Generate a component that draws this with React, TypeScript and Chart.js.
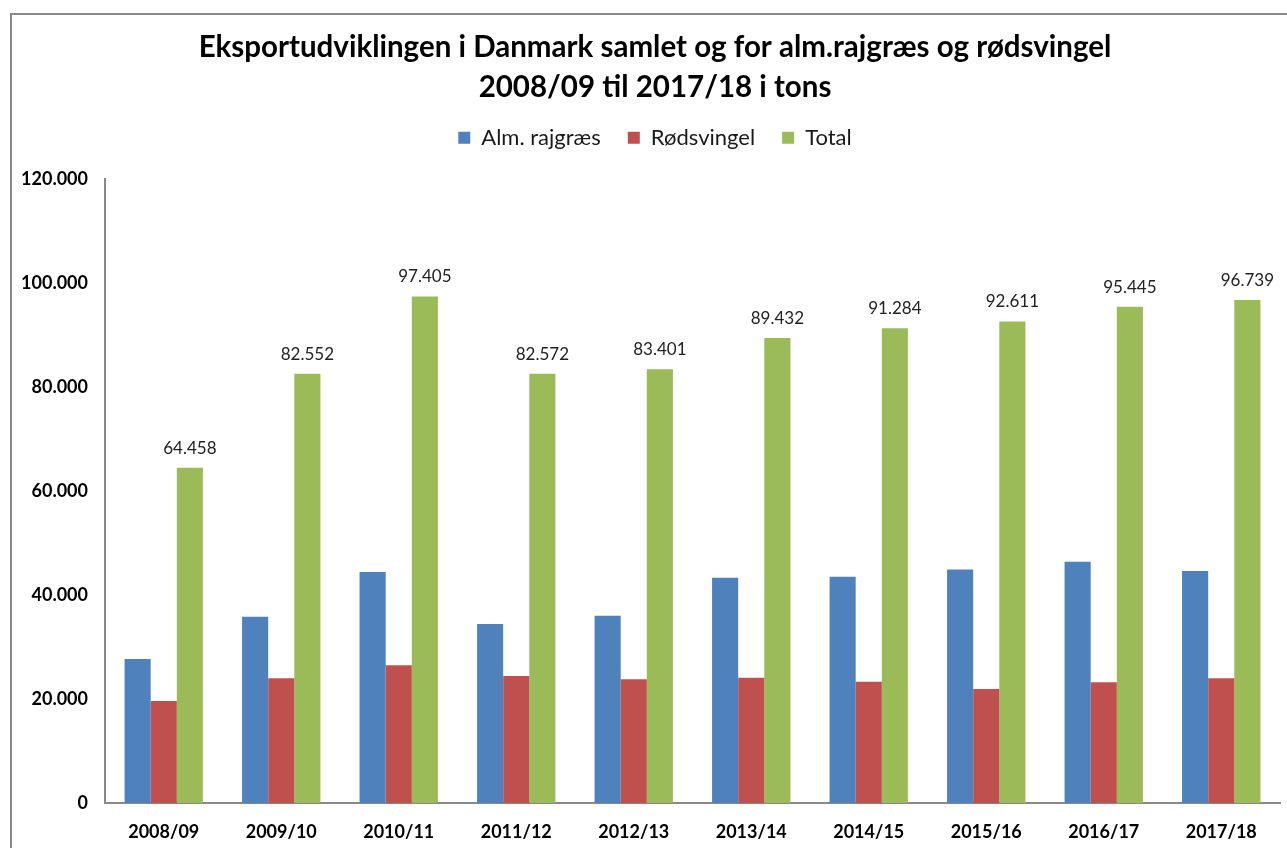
import React, { useEffect, useRef } from "react";
import { Chart, registerables } from "chart.js";

Chart.register(...registerables);

const titleLines = [
  "Eksportudviklingen i Danmark samlet og for alm.rajgræs og rødsvingel",
  "2008/09 til 2017/18 i tons",
];
const categories = [
  "2008/09", "2009/10", "2010/11", "2011/12", "2012/13",
  "2013/14", "2014/15", "2015/16", "2016/17", "2017/18",
];
const seriesNames = ["Alm. rajgræs", "Rødsvingel", "Total"];
const almRajgraes = [27700, 35800, 44400, 34400, 36000, 43300, 43500, 44900, 46400, 44600];
const roedsvingel = [19600, 24000, 26500, 24400, 23800, 24100, 23300, 21900, 23200, 24000];
const total = [64458, 82552, 97405, 82572, 83401, 89432, 91284, 92611, 95445, 96739];
const yMin = 0;
const yMax = 120000;
const yStep = 20000;

const FONT = "Lato, 'Open Sans', sans-serif";
const TITLE_SIZE = 29.5;
const TITLE_LH = 39.15;
const HEADER_SHIFT = 8;

const fmt = (v: number) =>
  Math.round(v).toString().replace(/\B(?=(\d{3})+(?!\d))/g, ".");

const wrapDraw = (box: any) => {
  const d = box.draw.bind(box);
  box.draw = function (...args: any[]) {
    const ctx = this.ctx || this.chart.ctx;
    ctx.save();
    ctx.translate(HEADER_SHIFT, 0);
    d(...args);
    ctx.restore();
  };
};

const layoutTweaks = {
  id: "layoutTweaks",
  beforeInit(chart: any) {
    const tb = chart.titleBlock;
    const lg = chart.legend;
    if (tb && typeof tb.update === "function" && !tb.__patched) {
      const f = tb.update.bind(tb);
      tb.update = function (...args: any[]) {
        f(...args);
        this.height -= 7;
        this.bottom = this.top + this.height;
      };
      wrapDraw(tb);
      tb.__patched = true;
    }
    if (lg && typeof lg.fit === "function" && !lg.__patched) {
      const f = lg.fit.bind(lg);
      lg.fit = function () {
        f();
        this.height += 20.3;
      };
      wrapDraw(lg);
      lg.__patched = true;
    }
  },
};

const totalLabels = {
  id: "totalLabels",
  afterDatasetsDraw(chart: any) {
    const meta = chart.getDatasetMeta(2);
    const ctx = chart.ctx;
    ctx.save();
    ctx.font = `17px ${FONT}`;
    ctx.fillStyle = "#222";
    ctx.textAlign = "center";
    ctx.textBaseline = "alphabetic";
    meta.data.forEach((bar: any, i: number) => {
      ctx.fillText(fmt(total[i]), bar.x, bar.y - 14);
    });
    ctx.restore();
  },
};

export default function App() {
  const ref = useRef<HTMLCanvasElement | null>(null);

  useEffect(() => {
    if (!ref.current) return;
    const chart = new Chart(ref.current, {
      type: "bar",
      data: {
        labels: categories,
        datasets: [
          { label: seriesNames[0], data: almRajgraes, backgroundColor: "#4F81BD" },
          { label: seriesNames[1], data: roedsvingel, backgroundColor: "#C0504D" },
          { label: seriesNames[2], data: total, backgroundColor: "#9BBB59" },
        ],
      },
      options: {
        responsive: false,
        animation: false,
        datasets: {
          bar: { categoryPercentage: 0.667, barPercentage: 1.0 },
        },
        layout: { padding: { top: 0, left: 14, right: 7, bottom: 0 } },
        plugins: {
          title: {
            display: true,
            text: titleLines,
            color: "#000",
            font: { family: FONT, size: TITLE_SIZE, weight: "bold", lineHeight: TITLE_LH / TITLE_SIZE },
            padding: { top: 28.4, bottom: 0 },
          },
          legend: {
            display: true,
            position: "top",
            labels: {
              boxWidth: 12,
              boxHeight: 12,
              padding: 27,
              color: "#1a1a1a",
              font: { family: FONT, size: 22 },
            },
          },
          tooltip: { enabled: false },
        },
        scales: {
          x: {
            grid: { display: false, drawTicks: false },
            border: { display: true, color: "#898989", width: 2 },
            ticks: {
              color: "#000",
              padding: 18,
              font: { family: FONT, size: 18, weight: "bold" },
            },
            afterFit: (s: any) => {
              s.height = 45;
            },
          },
          y: {
            min: yMin,
            max: yMax,
            grid: { display: false, drawTicks: false },
            border: { display: true, color: "#898989", width: 2 },
            ticks: {
              stepSize: yStep,
              color: "#000",
              padding: 17,
              font: { family: FONT, size: 18, weight: "bold" },
              callback: (v: any) => fmt(Number(v)),
            },
            afterFit: (s: any) => {
              s.width = 91;
            },
          },
        },
      },
      plugins: [layoutTweaks, totalLabels],
    });
    return () => chart.destroy();
  }, []);

  return (
    <div
      style={{
        position: "fixed",
        left: 0,
        top: 0,
        width: 1287,
        height: 848,
        overflow: "hidden",
        background: "#fff",
      }}
    >
      <div
        style={{
          position: "absolute",
          left: 10,
          top: 13,
          width: 1400,
          height: 1000,
          borderLeft: "2px solid #898989",
          borderTop: "2px solid #898989",
          pointerEvents: "none",
        }}
      />
      <canvas
        ref={ref}
        width={1287}
        height={848}
        style={{ position: "absolute", left: 0, top: 0, display: "block" }}
      />
    </div>
  );
}
